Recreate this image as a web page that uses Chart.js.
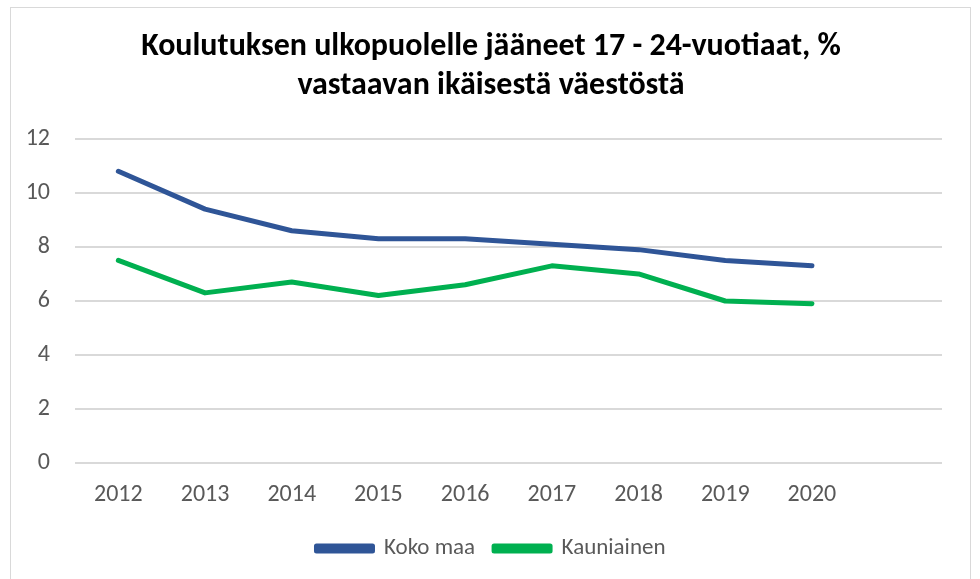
<!DOCTYPE html>
<html>
<head>
<meta charset="utf-8">
<script src="https://cdn.jsdelivr.net/npm/chart.js@4"></script>
<style>
  html, body { margin: 0; padding: 0; background: #fff; overflow: hidden; }
  #frame { position: absolute; left: 10px; top: 7px; width: 959px; height: 600px; border: 1px solid #d9d9d9; }
  #wrap { position: absolute; left: 0; top: 0; width: 980px; height: 579px; }
</style>
</head>
<body>
<div id="frame"></div>
<div id="wrap"><canvas id="c" width="980" height="579"></canvas></div>
<script>
const years = ['2012', '2013', '2014', '2015', '2016', '2017', '2018', '2019', '2020', ''];
const kokoMaa = [10.8, 9.4, 8.6, 8.3, 8.3, 8.1, 7.9, 7.5, 7.3, null];
const kauniainen = [7.5, 6.3, 6.7, 6.2, 6.6, 7.3, 7.0, 6.0, 5.9, null];
const yTicks = [0, 2, 4, 6, 8, 10, 12];

const font = "Carlito, 'Liberation Sans', 'Noto Sans', sans-serif";

const ctx = document.getElementById('c').getContext('2d');
new Chart(ctx, {
  type: 'line',
  data: {
    labels: years,
    datasets: [
      {
        label: 'Koko maa',
        data: kokoMaa,
        borderColor: '#2F5597',
        backgroundColor: '#2F5597',
        borderWidth: 5,
        borderCapStyle: 'round',
        borderJoinStyle: 'round',
        pointRadius: 0,
        tension: 0
      },
      {
        label: 'Kauniainen',
        data: kauniainen,
        borderColor: '#00B050',
        backgroundColor: '#00B050',
        borderWidth: 5,
        borderCapStyle: 'round',
        borderJoinStyle: 'round',
        pointRadius: 0,
        tension: 0
      }
    ]
  },
  options: {
    responsive: false,
    animation: false,
    layout: { padding: { left: 28, right: 26, top: 28, bottom: 9 } },
    plugins: {
      title: {
        display: true,
        text: ['Koulutuksen ulkopuolelle jääneet 17 - 24-vuotiaat, %', 'vastaavan ikäisestä väestöstä'],
        color: '#000',
        font: { family: font, size: 32, weight: 'bold' },
        lineHeight: 1.22,
        padding: { top: 0, bottom: 34 }
      },
      legend: {
        position: 'bottom',
        labels: {
          color: '#595959',
          font: { family: font, size: 23 },
          boxWidth: 56,
          boxHeight: 5,
          padding: 19
        }
      },
      tooltip: { enabled: false }
    },
    scales: {
      x: {
        offset: true,
        grid: { display: false },
        border: { display: false },
        ticks: { color: '#595959', font: { family: font, size: 24 }, padding: 9, maxRotation: 0 }
      },
      y: {
        min: 0,
        max: 12,
        afterBuildTicks: (axis) => { axis.ticks = yTicks.map(v => ({ value: v })); },
        afterFit: (axis) => { axis.width = 47; },
        grid: { color: '#d9d9d9', lineWidth: 2, drawTicks: false },
        border: { display: false },
        ticks: { color: '#595959', font: { family: font, size: 24 }, padding: 25 }
      },
      yRight: {
        position: 'right',
        afterFit: (axis) => { axis.width = 12; },
        grid: { display: false },
        border: { display: false },
        ticks: { display: false }
      }
    }
  }
});
</script>
</body>
</html>
